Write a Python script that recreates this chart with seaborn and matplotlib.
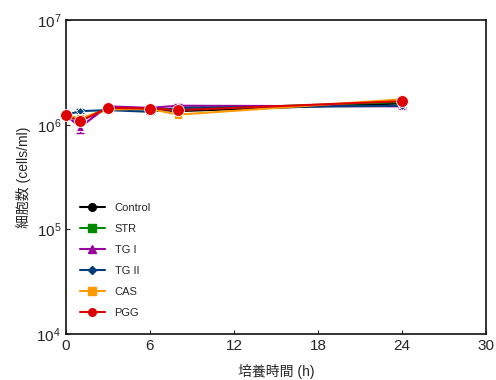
import numpy as np
import pandas as pd
import matplotlib
matplotlib.use("Agg")
import matplotlib.pyplot as plt
from matplotlib.lines import Line2D
import seaborn as sns

sns.set_style("ticks")
plt.rcParams['font.family'] = ['Liberation Sans', 'Noto Sans CJK JP', 'DejaVu Sans']

times = [0, 1, 3, 6, 8, 24]
groups = ["Control", "STR", "TG I", "TG II", "CAS", "PGG"]
control = [1.24e6, 1.10e6, 1.42e6, 1.40e6, 1.35e6, 1.60e6]
strv    = [1.24e6, 1.12e6, 1.44e6, 1.42e6, 1.40e6, 1.65e6]
tg1     = [1.24e6, 0.95e6, 1.50e6, 1.45e6, 1.52e6, 1.50e6]
tg2     = [1.24e6, 1.35e6, 1.38e6, 1.33e6, 1.45e6, 1.52e6]
cas     = [1.24e6, 1.15e6, 1.40e6, 1.42e6, 1.25e6, 1.75e6]
pgg     = [1.24e6, 1.08e6, 1.45e6, 1.43e6, 1.38e6, 1.68e6]
err_control = [0.03e6, 0.05e6, 0.04e6, 0.05e6, 0.04e6, 0.05e6]
err_str     = [0.03e6, 0.05e6, 0.04e6, 0.04e6, 0.04e6, 0.05e6]
err_tg1     = [0.03e6, 0.12e6, 0.06e6, 0.05e6, 0.05e6, 0.07e6]
err_tg2     = [0.03e6, 0.06e6, 0.04e6, 0.05e6, 0.04e6, 0.04e6]
err_cas     = [0.03e6, 0.05e6, 0.04e6, 0.04e6, 0.05e6, 0.07e6]
err_pgg     = [0.03e6, 0.06e6, 0.04e6, 0.04e6, 0.04e6, 0.06e6]

series = [control, strv, tg1, tg2, cas, pgg]
errs = [err_control, err_str, err_tg1, err_tg2, err_cas, err_pgg]
colors = ["#000000", "#008a00", "#990099", "#003d7a", "#ff9900", "#dd0000"]
markers = ["o", "s", "^", "D", "s", "o"]
msizes = [6, 6, 6, 4.5, 6, 8.5]
leg_sizes = [5.5, 5.5, 6, 4, 5.5, 5.5]

df = pd.DataFrame({
    "time": np.tile(times, len(groups)),
    "value": np.concatenate(series),
    "group": np.repeat(groups, len(times)),
})

fig = plt.figure(figsize=(4.96, 3.8), dpi=100)
ax = fig.add_axes([0.133, 0.121, 0.847, 0.826])

for g, vals, e, c, m, ms in zip(groups, series, errs, colors, markers, msizes):
    sub = df[df.group == g]
    ax.errorbar(times, vals, yerr=e, fmt="none", ecolor=c, elinewidth=1, capsize=3, zorder=2)
    sns.lineplot(data=sub, x="time", y="value", ax=ax, color=c, marker=m,
                 markersize=ms, markeredgecolor="white", markeredgewidth=0.6,
                 linewidth=1.5, legend=False, zorder=3, clip_on=False)

ax.set_yscale("log")
ax.set_ylim(1e4, 1e7)
ax.set_xlim(0, 30)
ax.set_xticks([0, 6, 12, 18, 24, 30])
ax.minorticks_off()
ax.yaxis.set_minor_locator(matplotlib.ticker.NullLocator())
ax.tick_params(direction="in", length=3, labelsize=11, width=0.8)
for s in ax.spines.values():
    s.set_linewidth(1.2)
    s.set_color("#111111")
ax.set_xlabel("培養時間 (h)", fontsize=10, labelpad=8)
ax.set_ylabel("細胞数 (cells/ml)", fontsize=10, labelpad=4)

handles = [Line2D([], [], color=c, marker=m, markersize=s, linewidth=1.5)
           for c, m, s in zip(colors, markers, leg_sizes)]
ax.legend(handles, groups, loc="lower left", bbox_to_anchor=(0.01, 0.02), frameon=False,
          fontsize=8, handlelength=2.2, labelspacing=0.98, handletextpad=0.9)

fig.savefig("out.png", dpi=100)
